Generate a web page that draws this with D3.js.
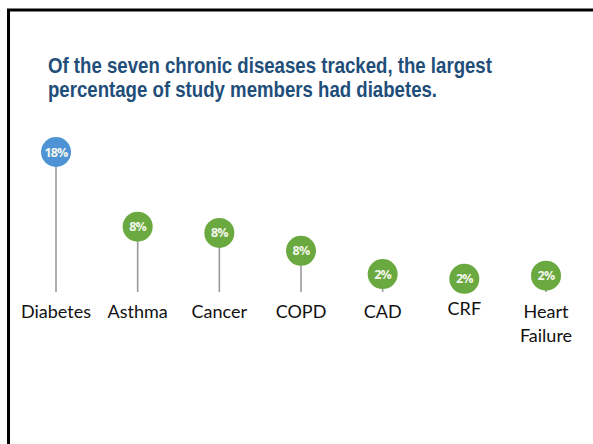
<!DOCTYPE html>
<html>
<head>
<meta charset="utf-8">
<script src="https://cdn.jsdelivr.net/npm/d3@7"></script>
<style>
  html, body { margin: 0; padding: 0; background: #fff; }
  svg { display: block; }
</style>
</head>
<body>
<svg class="chart"></svg>
<script>
// data
const diseases = ['Diabetes', 'Asthma', 'Cancer', 'COPD', 'CAD', 'CRF', 'Heart Failure'];
const pctLabels = ['18%', '8%', '8%', '8%', '2%', '2%', '2%'];
// heights the pins are drawn at (in %)
const pinValues = [18, 8.4, 7.6, 5.3, 2.3, 1.7, 2.1];
const titleLines = [
    'Of the seven chronic diseases tracked, the largest',
    'percentage of study members had diabetes.'
];

const width = 593;
const height = 444;
const baseY = 292; // bottom of the stems
const topY = 152;
const radius = 15;

const svg = d3.select('.chart')
    .attr('width', width)
    .attr('height', height)
    .attr('viewBox', [0, 0, width, height]);

// slide frame (only top and left edges are in view)
svg.append('path')
    .attr('d', `M8.5,${height + 5} V10 H${width + 5}`)
    .attr('fill', 'none')
    .attr('stroke', '#000')
    .attr('stroke-width', 3);

// title - the original uses a condensed face, so squeeze horizontally
const titleWidth = 444; // width of the first line in the picture
const title = svg.append('g')
    .attr('fill', '#1f4e7a')
    .attr('font-family', '"Liberation Sans", Arial, sans-serif')
    .attr('font-weight', 'bold')
    .attr('font-size', 21.5);
const titleText = title.selectAll('text')
    .data(titleLines)
    .join('text')
        .attr('x', 0)
        .attr('y', (d, i) => i * 24)
        .text(d => d);
const squeeze = titleWidth / titleText.node().getComputedTextLength();
title.attr('transform', `translate(48,73) scale(${squeeze},1)`);

// scales
const xScale = d3.scalePoint(diseases, [56, 546]);
const yScale = d3.scaleLinear([0, 18], [baseY, topY]);

const pins = svg.append('g')
    .selectAll('g')
    .data(diseases.map((name, i) => ({name, value: pinValues[i], label: pctLabels[i]})))
    .join('g')
        .attr('transform', d => `translate(${xScale(d.name)},0)`);

// stems
pins.filter(d => yScale(d.value) + radius < baseY)
    .append('line')
        .attr('x1', 0).attr('x2', 0)
        .attr('y1', d => yScale(d.value))
        .attr('y2', baseY)
        .attr('stroke', '#9a9a9a')
        .attr('stroke-width', 1.6);

// heads
pins.append('circle')
    .attr('cy', d => yScale(d.value))
    .attr('r', radius)
    .attr('fill', (d, i) => i === 0 ? '#4d93d5' : '#6aa93f');

pins.append('text')
    .attr('y', d => yScale(d.value))
    .attr('dy', '0.36em')
    .attr('text-anchor', 'middle')
    .attr('fill', '#f2f6ec')
    .attr('font-family', '"Open Sans", sans-serif')
    .attr('font-weight', 'bold')
    .attr('font-size', 12.5)
    .attr('letter-spacing', -0.8)
    .text(d => d.label);

// category labels
pins.append('text')
    .attr('y', d => d.name === 'CRF' ? 315 : 318)
    .attr('text-anchor', 'middle')
    .attr('fill', '#111')
    .attr('font-family', 'Lato, "Open Sans", sans-serif')
    .attr('font-size', 18)
    .selectAll('tspan')
    .data(d => d.name.split(' '))
    .join('tspan')
        .attr('x', 0)
        .attr('dy', (d, i) => i === 0 ? 0 : 24)
        .text(d => d);
</script>
</body>
</html>
